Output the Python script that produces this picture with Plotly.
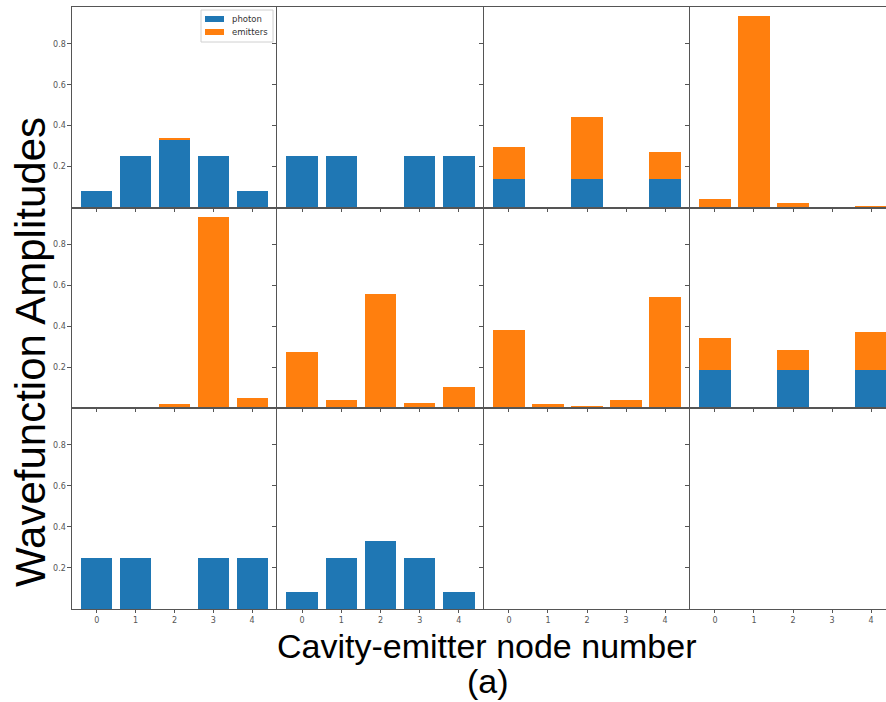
import plotly.graph_objects as go

# Node indices along each cavity-emitter chain
nodes = [0, 1, 2, 3, 4]

# Amplitudes per panel (row-major, 3 rows x 4 columns)
photon = [
    [0.083, 0.25, 0.333, 0.25, 0.083],
    [0.25, 0.25, 0.0, 0.25, 0.25],
    [0.138, 0.0, 0.138, 0.0, 0.138],
    [0.004, 0.0, 0.0, 0.0, 0.0],
    [0.0, 0.0, 0.0, 0.0, 0.004],
    [0.004, 0.0, 0.004, 0.0, 0.004],
    [0.0, 0.0, 0.0, 0.005, 0.0],
    [0.186, 0.0, 0.186, 0.0, 0.186],
    [0.25, 0.25, 0.0, 0.25, 0.25],
    [0.083, 0.25, 0.333, 0.25, 0.083],
    [0.0, 0.0, 0.0, 0.0, 0.0],
    [0.0, 0.0, 0.0, 0.0, 0.0],
]
emitters = [
    [0.0, 0.0, 0.003, 0.0, 0.0],
    [0.0, 0.0, 0.0, 0.0, 0.0],
    [0.157, 0.0, 0.302, 0.0, 0.131],
    [0.037, 0.936, 0.02, 0.0, 0.005],
    [0.0, 0.0, 0.02, 0.932, 0.043],
    [0.268, 0.039, 0.552, 0.024, 0.097],
    [0.381, 0.02, 0.01, 0.034, 0.544],
    [0.155, 0.0, 0.099, 0.0, 0.185],
    [0.0, 0.0, 0.0, 0.0, 0.0],
    [0.0, 0.0, 0.0, 0.0, 0.0],
    [0.0, 0.0, 0.0, 0.0, 0.0],
    [0.0, 0.0, 0.0, 0.0, 0.0],
]
series_names = ["photon", "emitters"]
ytick_vals = [0.2, 0.4, 0.6, 0.8]
ytick_text = ["0.2", "0.4", "0.6", "0.8"]
xtick_text = ["0", "1", "2", "3", "4"]

W, H = 886, 702
BLUE = "#1f77b4"
ORANGE = "#ff7f0e"
SPINE = "#555555"
TICKFONT = dict(family="DejaVu Sans", size=8, color="#555555")
TITLEFONT = "Liberation Sans"

col_px = [(72, 277), (277, 484), (484, 690), (690, 886)]
row_px = [(7, 207.5), (207.5, 408), (408, 609)]
YMAX = 0.98


def px(x, y):
    return x / W, 1 - y / H


fig = go.Figure()
layout = {}
for idx in range(12):
    r, c = divmod(idx, 4)
    n = idx + 1
    xa = "x" if n == 1 else f"x{n}"
    ya = "y" if n == 1 else f"y{n}"
    fig.add_trace(go.Bar(x=nodes, y=photon[idx], name=series_names[0], marker_color=BLUE,
                         marker_line_width=0, width=0.8, xaxis=xa, yaxis=ya, showlegend=False))
    fig.add_trace(go.Bar(x=nodes, y=emitters[idx], name=series_names[1], marker_color=ORANGE,
                         marker_line_width=0, width=0.8, xaxis=xa, yaxis=ya, showlegend=False))

    x0, x1 = col_px[c]
    y0, y1 = row_px[r]
    xrange = [-0.64, 4.64] if c < 3 else [-0.64, 4.64 - 10 / 39.0]
    xkey = "xaxis" if n == 1 else f"xaxis{n}"
    ykey = "yaxis" if n == 1 else f"yaxis{n}"
    layout[xkey] = dict(
        domain=[x0 / W, x1 / W], anchor=ya, range=xrange, fixedrange=True,
        showline=True, linecolor=SPINE, linewidth=1.2, mirror=True,
        showgrid=False, zeroline=False,
        tickvals=nodes, ticktext=xtick_text, showticklabels=(r == 2),
        ticks="outside", ticklen=3, tickcolor=SPINE, tickfont=TICKFONT,
    )
    layout[ykey] = dict(
        domain=[1 - y1 / H, 1 - y0 / H], anchor=xa, range=[0, YMAX], fixedrange=True,
        showline=True, linecolor=SPINE, linewidth=1.2, mirror=False,
        showgrid=False, zeroline=False,
        tickvals=ytick_vals, ticktext=ytick_text, showticklabels=(c == 0),
        ticks="outside", ticklen=3.5, tickcolor=SPINE, tickfont=TICKFONT,
    )

# Compact legend box in the upper-right corner of the first panel
shapes = []
annotations = []
lx0, ly0 = px(201, 10)
lx1, ly1 = px(273, 42)
shapes.append(dict(type="rect", xref="paper", yref="paper", x0=lx0, x1=lx1, y0=ly1, y1=ly0,
                   line=dict(color="#d0d0d0", width=1), fillcolor="white", layer="above"))
for name, color, yc in [(series_names[0], BLUE, 19), (series_names[1], ORANGE, 32)]:
    sx0, sy0 = px(205, yc - 3)
    sx1, sy1 = px(224, yc + 3)
    shapes.append(dict(type="rect", xref="paper", yref="paper", x0=sx0, x1=sx1, y0=sy1, y1=sy0,
                       line=dict(width=0), fillcolor=color, layer="above"))
    tx, ty = px(230, yc)
    annotations.append(dict(text=name, x=tx, y=ty, xref="paper", yref="paper", showarrow=False,
                            xanchor="left", yanchor="middle",
                            font=dict(family="DejaVu Sans", size=8.5, color="#333333")))

tx, ty = px(30, 352)
annotations.append(dict(text="Wavefunction Amplitudes", x=tx, y=ty, xref="paper", yref="paper",
                        showarrow=False, textangle=-90, xanchor="center", yanchor="middle",
                        font=dict(family=TITLEFONT, size=42, color="black")))
tx, ty = px(487, 625)
annotations.append(dict(text="Cavity-emitter node number", x=tx, y=ty, xref="paper", yref="paper",
                        showarrow=False, xanchor="center", yanchor="top",
                        font=dict(family=TITLEFONT, size=34, color="black")))
tx, ty = px(488, 702)
annotations.append(dict(text="(a)", x=tx, y=ty, xref="paper", yref="paper",
                        showarrow=False, xanchor="center", yanchor="bottom",
                        font=dict(family=TITLEFONT, size=34, color="black")))

fig.update_layout(**layout)
fig.update_layout(
    width=W, height=H, margin=dict(l=0, r=0, t=0, b=0),
    paper_bgcolor="white", plot_bgcolor="white",
    barmode="stack", bargap=0.2, showlegend=False,
    shapes=shapes, annotations=annotations,
)

fig.write_html("out.html")
